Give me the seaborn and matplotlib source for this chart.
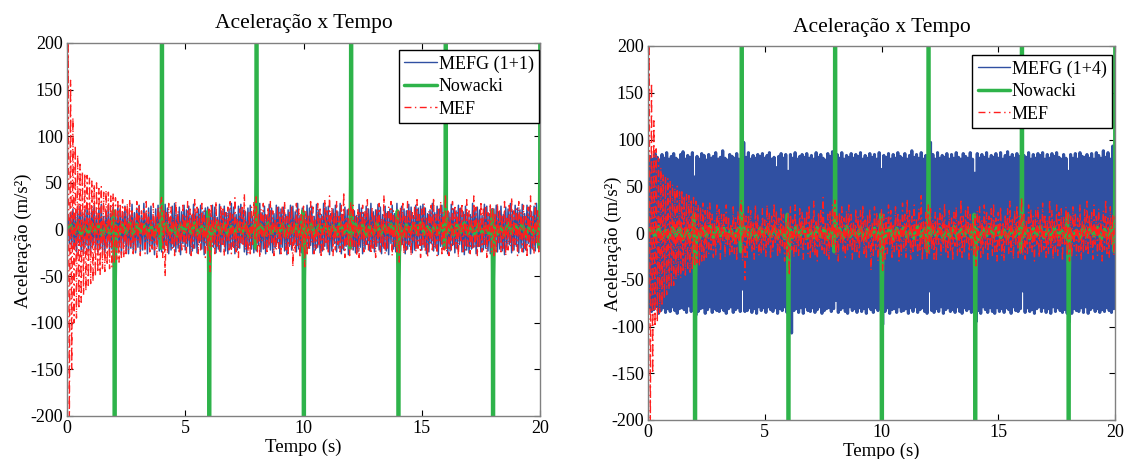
import numpy as np
import matplotlib
matplotlib.use("Agg")
import matplotlib.pyplot as plt
import seaborn as sns

# ---------------- data ----------------
# MEF (shared by both panels), sampled every 0.05 s from 0 to 20 s
mef = [
    0, 205, -210, 160, -150, 120, -100, 90, -95, 80, -85, 70, -78, 62, -70, 60, -66, 58, -60, 55,
    -58, 52, -56, 48, -50, 50, -46, 44, -48, 46, -42, 40, -45, 42, -38, 40, -42, 36, -40, 38,
    -36, 34, -32, 30, -35, 28, -30, 32, -30, 24, -26, 28, -22, 32, -18, 20, -26, 14, -24, 30,
    -12, 25, -28, 20, -8, 22, -26, 30, -14, 18, -24, 10, -20, 28, -22, 16, -30, 24, -10, 26,
    35, -30, 22, -50, 18, -26, 28, -14, 24, -20, 12, -28, 30, -16, 20, -24, 8, -22, 26, -18,
    14, -25, 30, -12, 22, -28, 18, -20, 32, -10, 24, -26, 16, -22, 28, -14, 20, -30, 12, -24,
    22, -45, 28, -18, 14, -26, 30, -20, 10, -24, 26, -16, 22, -28, 18, -12, 24, -22, 30, -26,
    16, -20, 34, -24, 12, -30, 22, -14, 26, -18, 38, -22, 10, -26, 20, -28, 24, -16, 30, -12,
    35, -24, 18, -30, 22, -12, 28, -20, 16, -26, 24, -18, 30, -14, 20, -28, 12, -22, 26, -20,
    18, -26, 24, -10, 30, -22, 14, -28, 20, -16, 26, -40, 12, -24, 28, -18, 22, -30, 16, -20,
    25, -40, 20, -28, 16, -22, 30, -14, 24, -26, 10, -20, 28, -18, 22, -30, 14, -24, 32, -16,
    20, -26, 36, -12, 24, -28, 18, -22, 30, -16, 14, -24, 26, -20, 40, -30, 12, -18, 22, -28,
    30, -22, 26, -18, 14, -28, 22, -30, 18, -12, 26, -24, 20, -16, 32, -22, 10, -26, 24, -20,
    16, -30, 22, -14, 28, -24, 12, -20, 36, -26, 18, -22, 24, -10, 30, -28, 20, -18, 14, -24,
    20, -35, 24, -18, 28, -26, 14, -22, 30, -16, 22, -28, 18, -12, 26, -24, 32, -20, 16, -30,
    22, -18, 28, -24, 12, -30, 20, -14, 26, -22, 34, -20, 16, -28, 24, -12, 30, -26, 18, -22,
    38, -24, 20, -28, 14, -22, 30, -16, 26, -20, 18, -30, 24, -12, 28, -26, 16, -22, 32, -18,
    20, -26, 14, -22, 36, -18, 24, -28, 12, -20, 30, -24, 22, -16, 26, -30, 18, -12, 28, -24,
    24, -30, 18, -26, 28, -14, 22, -24, 16, -20, 30, -28, 12, -22, 26, -18, 34, -24, 20, -16,
    22, -28, 30, -12, 18, -24, 26, -20, 14, -30, 24, -18, 36, -22, 16, -26, 28, -14, 20, -24,
    18,
]

# MEFG (1+1), left panel, sampled every 0.05 s
mefg_1p1 = [
    0, 12, -15, 18, -20, 22, -18, 16, -24, 20, -14, 25, -22, 18, -26, 21, -17, 24, -23, 19,
    -25, 22, -16, 26, -21, 15, -24, 23, -19, 27, -22, 14, -25, 20, -18, 26, -23, 17, -21, 24,
    -30, 20, -24, 26, -18, 22, -27, 19, -15, 25, -23, 21, -26, 16, -20, 27, -22, 18, -25, 23,
    -19, 26, -24, 15, -22, 28, -20, 17, -26, 23, -18, 25, -21, 14, -27, 22, -16, 26, -23, 20,
    -24, 18, -21, 27, -17, 23, -26, 12, -22, 25, -19, 28, -24, 16, -20, 24, -27, 19, -15, 26,
    -22, 21, -18, 25, -26, 15, -23, 27, -20, 18, -25, 22, -14, 26, -21, 19, -27, 23, -17, 24,
    -28, 17, -22, 26, -19, 24, -25, 13, -21, 27, -24, 20, -16, 25, -23, 18, -26, 22, -20, 28,
    -18, 24, -26, 16, -22, 25, -20, 27, -15, 21, -24, 19, -27, 23, -17, 26, -21, 14, -25, 22,
    -23, 20, -17, 28, -24, 18, -21, 25, -26, 15, -19, 27, -22, 23, -25, 17, -20, 26, -14, 24,
    -26, 22, -19, 24, -23, 16, -27, 21, -18, 26, -22, 25, -16, 19, -24, 28, -21, 15, -25, 23,
    -29, 18, -24, 26, -20, 23, -17, 25, -26, 14, -22, 27, -19, 21, -25, 16, -23, 28, -18, 24,
    -21, 25, -27, 17, -23, 22, -15, 26, -24, 19, -20, 28, -26, 16, -22, 24, -18, 21, -27, 23,
    -17, 26, -22, 20, -25, 15, -24, 27, -19, 23, -26, 18, -21, 25, -16, 22, -23, 28, -20, 19,
    -24, 21, -18, 27, -22, 24, -26, 16, -20, 25, -23, 19, -27, 22, -15, 26, -21, 17, -24, 28,
    -27, 19, -23, 25, -16, 22, -26, 20, -21, 27, -18, 24, -25, 15, -22, 26, -20, 23, -17, 25,
    -22, 27, -19, 23, -26, 17, -24, 21, -15, 28, -23, 18, -20, 25, -27, 22, -18, 26, -21, 16,
    -20, 24, -26, 18, -23, 27, -17, 22, -25, 20, -21, 26, -16, 23, -24, 19, -27, 25, -22, 18,
    -25, 16, -21, 28, -19, 23, -26, 24, -18, 21, -24, 15, -22, 27, -20, 25, -23, 17, -26, 22,
    -28, 22, -17, 26, -24, 19, -21, 25, -23, 16, -27, 24, -19, 22, -16, 28, -25, 20, -22, 26,
    -18, 23, -25, 21, -20, 27, -24, 17, -22, 26, -15, 24, -26, 19, -21, 25, -23, 28, -17, 22,
    -20,
]

# MEFG (1+4), right panel, sampled every 0.05 s
mefg_1p4 = [
    83, -80, 82, -84, 79, -82, 85, -79, 81, -86, 78, -83, 84, -80, 80, -85, 86, -81, 79, -84,
    82, -79, 85, -83, 80, -86, 78, -81, 84, -80, 87, -82, 79, -85, 83, -78, 81, -84, 86, -80,
    60, -88, 82, -84, 79, -81, 85, -80, 83, -86, 78, -82, 84, -79, 80, -85, 82, -81, 86, -83,
    79, -84, 81, -80, 88, -83, 80, -86, 78, -81, 84, -79, 82, -85, 80, -82, 85, -80, 79, -84,
    78, -60, 97, -84, 81, -83, 86, -80, 79, -85, 83, -81, 80, -86, 84, -79, 82, -83, 85, -80,
    80, -85, 83, -79, 86, -82, 79, -84, 81, -80, 70, -86, 82, -81, 85, -83, 80, -79, 84, -85,
    66, -88, 84, -107, 80, -83, 86, -81, 79, -85, 82, -80, 84, -86, 81, -79, 85, -83, 80, -84,
    83, -80, 79, -85, 86, -82, 81, -79, 84, -86, 80, -83, 78, -81, 85, -80, 82, -84, 87, -81,
    105, -72, 84, -85, 80, -82, 86, -80, 79, -84, 83, -86, 81, -79, 85, -83, 80, -81, 84, -85,
    82, -80, 86, -84, 79, -81, 83, -86, 80, -79, 85, -82, 81, -85, 84, -80, 79, -83, 86, -81,
    68, -98, 83, -84, 81, -80, 85, -86, 79, -82, 84, -81, 80, -85, 86, -79, 82, -84, 80, -83,
    85, -81, 79, -86, 83, -80, 88, -84, 81, -79, 84, -85, 80, -82, 86, -80, 79, -84, 83, -86,
    80, -62, 97, -83, 84, -85, 79, -81, 86, -84, 80, -79, 83, -86, 81, -82, 85, -80, 79, -84,
    84, -82, 80, -85, 86, -79, 81, -84, 79, -86, 85, -80, 82, -83, 80, -81, 86, -85, 79, -82,
    64, -95, 85, -83, 80, -86, 84, -79, 81, -82, 86, -85, 79, -80, 83, -84, 81, -86, 85, -80,
    80, -84, 86, -81, 79, -85, 83, -80, 87, -82, 81, -86, 84, -79, 80, -83, 85, -84, 82, -81,
    96, -62, 83, -85, 81, -80, 86, -84, 79, -82, 84, -86, 80, -81, 85, -79, 83, -84, 86, -80,
    79, -85, 84, -81, 80, -86, 85, -79, 82, -84, 86, -80, 81, -83, 79, -85, 84, -82, 80, -86,
    66, -95, 84, -86, 80, -81, 85, -83, 79, -84, 86, -80, 82, -85, 81, -79, 84, -86, 80, -82,
    85, -80, 79, -84, 86, -81, 83, -85, 80, -82, 88, -84, 81, -80, 86, -83, 79, -85, 93, -81,
    84,
]

# Nowacki (analytical), irregular sampling around the impulses
nowacki_t = [
    0.00, 0.15, 0.30, 0.45, 0.60, 0.75, 0.90, 1.05, 1.20, 1.35, 1.50, 1.65, 1.80, 1.92,
    1.97, 1.99, 2.00, 2.03, 2.04, 2.07,
    2.20, 2.35, 2.50, 2.65, 2.80, 2.95, 3.10, 3.25, 3.40, 3.55, 3.70, 3.85, 3.93,
    3.97, 3.99, 4.00, 4.03, 4.04, 4.07,
    4.20, 4.35, 4.50, 4.65, 4.80, 4.95, 5.10, 5.25, 5.40, 5.55, 5.70, 5.85, 5.93,
    5.97, 5.99, 6.00, 6.03, 6.04, 6.07,
    6.20, 6.35, 6.50, 6.65, 6.80, 6.95, 7.10, 7.25, 7.40, 7.55, 7.70, 7.85, 7.93,
    7.97, 7.99, 8.00, 8.03, 8.04, 8.07,
    8.20, 8.35, 8.50, 8.65, 8.80, 8.95, 9.10, 9.25, 9.40, 9.55, 9.70, 9.85, 9.93,
    9.97, 9.99, 10.00, 10.03, 10.04, 10.07,
    10.20, 10.35, 10.50, 10.65, 10.80, 10.95, 11.10, 11.25, 11.40, 11.55, 11.70, 11.85, 11.93,
    11.97, 11.99, 12.00, 12.03, 12.04, 12.07,
    12.20, 12.35, 12.50, 12.65, 12.80, 12.95, 13.10, 13.25, 13.40, 13.55, 13.70, 13.85, 13.93,
    13.97, 13.99, 14.00, 14.03, 14.04, 14.07,
    14.20, 14.35, 14.50, 14.65, 14.80, 14.95, 15.10, 15.25, 15.40, 15.55, 15.70, 15.85, 15.93,
    15.97, 15.99, 16.00, 16.03, 16.04, 16.07,
    16.20, 16.35, 16.50, 16.65, 16.80, 16.95, 17.10, 17.25, 17.40, 17.55, 17.70, 17.85, 17.93,
    17.97, 17.99, 18.00, 18.03, 18.04, 18.07,
    18.20, 18.35, 18.50, 18.65, 18.80, 18.95, 19.10, 19.25, 19.40, 19.55, 19.70, 19.85, 19.93,
    19.97, 19.99, 20.00,
]
nowacki_a = [
    0, 5, -4, 7, -6, 3, -5, 6, -3, 5, -7, 4, -5, 3,
    20, -45, -400, -400, -55, 4,
    -6, 5, -4, 7, -5, 6, -3, 5, -6, 4, -7, 5, -3,
    -20, 55, 400, 400, 20, -4,
    6, -5, 4, -7, 5, -3, 6, -4, 7, -5, 3, -6, 4,
    20, -45, -400, -400, -55, 4,
    -5, 7, -4, 6, -6, 3, -5, 6, -4, 5, -7, 4, -3,
    -20, 55, 400, 400, 20, -4,
    5, -6, 7, -4, 3, -5, 6, -7, 4, -3, 5, -6, 4,
    20, -45, -400, -400, -55, 4,
    -4, 6, -7, 5, -3, 6, -5, 4, -6, 7, -4, 5, -3,
    -20, 55, 400, 400, 20, -4,
    6, -4, 5, -7, 3, -5, 7, -6, 4, -3, 6, -5, 4,
    20, -45, -400, -400, -55, 4,
    -7, 5, -3, 6, -4, 7, -5, 3, -6, 5, -4, 6, -3,
    -20, 55, 400, 400, 20, -4,
    4, -6, 5, -3, 7, -5, 4, -7, 6, -4, 3, -5, 4,
    20, -45, -400, -400, -55, 4,
    -5, 3, -6, 7, -4, 5, -3, 6, -7, 4, -5, 6, -3,
    -20, 55, 400,
]

title = "Aceleração x Tempo"
xlabel = "Tempo (s)"
ylabel = "Aceleração (m/s²)"
yticks = [-200, -150, -100, -50, 0, 50, 100, 150, 200]
xticks = [0, 5, 10, 15, 20]

# ---------------- style ----------------
sns.set_theme(style="white")
plt.rcParams["font.family"] = ["Liberation Serif", "DejaVu Serif"]
plt.rcParams["axes.unicode_minus"] = False
plt.rcParams["text.color"] = "black"
plt.rcParams["axes.labelcolor"] = "black"
plt.rcParams["xtick.color"] = "black"
plt.rcParams["ytick.color"] = "black"

BLUE = "#3050a2"
GREEN = "#2eb34a"
RED = "#ff1f1f"
MEF_DASH = (0, (5, 2.5, 1, 2.5))

fig = plt.figure(figsize=(11.29, 4.59), dpi=100)
ax_l = fig.add_axes([67 / 1129, 1 - 416 / 459, 473 / 1129, 373 / 459])
ax_r = fig.add_axes([648 / 1129, 1 - 420 / 459, 467 / 1129, 374 / 459])


def draw_panel(ax, mefg, mefg_label, mefg_lw, anchor, ylab_x, title_pad):
    t_mefg = np.linspace(0, 20, len(mefg))
    t_mef = np.linspace(0, 20, len(mef))
    sns.lineplot(x=t_mefg, y=mefg, ax=ax, color=BLUE, lw=mefg_lw,
                 label=mefg_label, estimator=None, sort=False)
    sns.lineplot(x=nowacki_t, y=nowacki_a, ax=ax, color=GREEN, lw=2.5,
                 label="Nowacki", estimator=None, sort=False)
    sns.lineplot(x=t_mef, y=mef, ax=ax, color=RED, lw=1.0, linestyle=MEF_DASH,
                 label="MEF", estimator=None, sort=False)
    ax.set_xlim(0, 20)
    ax.set_ylim(-200, 200)
    ax.set_xticks(xticks)
    ax.set_yticks(yticks)
    ax.tick_params(direction="in", length=4, width=0.8, top=True, right=True,
                   bottom=True, left=True, labelsize=13, pad=3)
    for s in ax.spines.values():
        s.set_color("#808080")
        s.set_linewidth(1.0)
    ax.set_title(title, fontsize=15.5, pad=title_pad)
    ax.set_xlabel(xlabel, fontsize=13.5, labelpad=1)
    ax.set_ylabel(ylabel, fontsize=13.5)
    ax.yaxis.set_label_coords(ylab_x, 0.47)
    h, l = ax.get_legend_handles_labels()
    leg = ax.legend(h, l, loc="upper right", bbox_to_anchor=anchor,
                    borderaxespad=0, fontsize=13, frameon=True, fancybox=False,
                    edgecolor="black", framealpha=1, handlelength=1.8,
                    handletextpad=0.1, labelspacing=0.3, borderpad=0.3)
    leg.get_frame().set_linewidth(1.0)
    leg.get_lines()[0].set_linewidth(1.0)


draw_panel(ax_l, mefg_1p1, "MEFG (1+1)", 1.1, (0.998, 0.981), -0.075, 11)
draw_panel(ax_r, mefg_1p4, "MEFG (1+4)", 2.2, (0.994, 0.976), -0.055, 10)

fig.savefig("out.png", dpi=100)
